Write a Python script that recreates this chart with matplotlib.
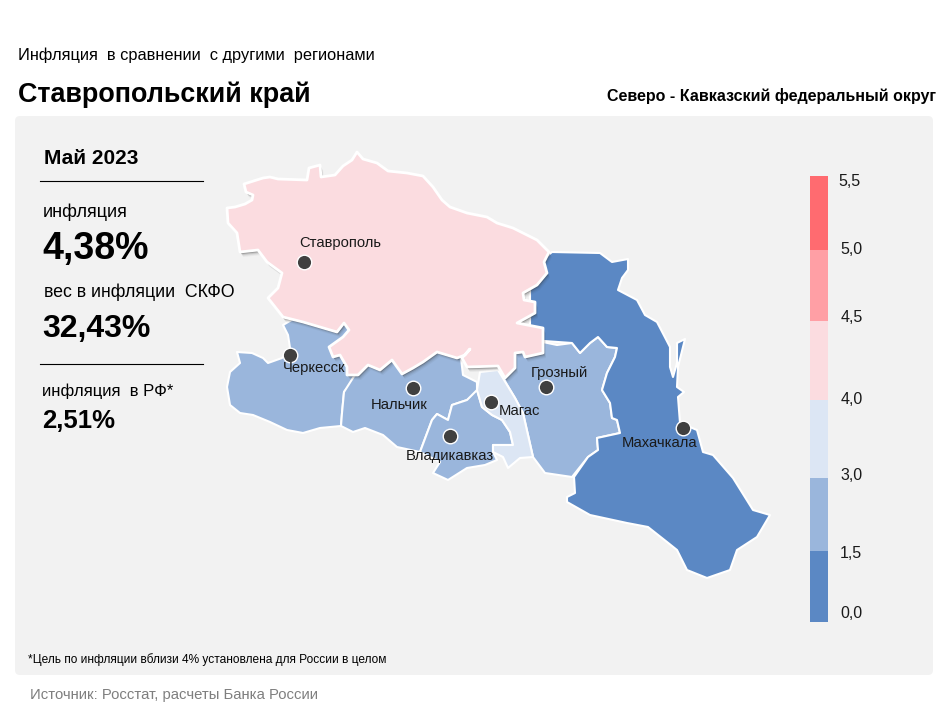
import matplotlib
matplotlib.use('Agg')
import matplotlib.pyplot as plt
from matplotlib.patches import FancyBboxPatch, Polygon, Rectangle

plt.rcParams['font.family'] = ['Liberation Sans', 'DejaVu Sans']

# контуры регионов (в пикселях исходной картинки)
stavropol = [(227, 208), (235, 207), (245, 204), (252, 200), (253, 195), (246, 192), (244, 184), (263, 178), (270, 177),
             (278, 179), (307, 180), (309, 168), (320, 165), (321, 177), (335, 175), (343, 166), (352, 160), (357, 152),
             (363, 159), (377, 163), (388, 171), (407, 173), (423, 176), (433, 187), (442, 200), (450, 207), (467, 213),
             (487, 217), (497, 223), (513, 228), (537, 240), (549, 252), (544, 262), (547, 273), (537, 285), (523, 293),
             (524, 300), (535, 302), (535, 313), (517, 323), (543, 328), (543, 353), (525, 357), (523, 352), (515, 353),
             (515, 368), (505, 378), (498, 366), (467, 367), (462, 358), (470, 349), (465, 355), (457, 358), (437, 352),
             (423, 362), (413, 368), (402, 374), (392, 360), (380, 370), (368, 365), (358, 375), (347, 375), (347, 367),
             (340, 355), (333, 357), (329, 347), (343, 337), (349, 330), (344, 323), (337, 332), (320, 327), (303, 322),
             (283, 317), (268, 298), (278, 288), (282, 273), (267, 262), (258, 250), (240, 252), (237, 233), (228, 223)]
cherkessia = [(237, 352), (252, 353), (263, 358), (268, 363), (282, 358), (290, 348), (288, 335), (283, 325), (300, 315),
              (348, 325), (350, 340), (358, 375), (344, 392), (342, 413), (341, 426), (320, 428), (303, 433), (287, 430),
              (270, 422), (253, 415), (240, 413), (230, 405), (227, 387), (230, 372), (240, 363)]
kabarda = [(358, 370), (344, 392), (342, 413), (341, 426), (353, 432), (365, 428), (383, 435), (397, 447), (420, 452),
           (432, 420), (437, 414), (448, 420), (452, 405), (467, 400), (477, 393), (477, 382), (463, 375), (460, 350),
           (400, 350)]
ossetia = [(420, 452), (432, 420), (437, 414), (448, 420), (452, 405), (467, 400), (477, 390), (482, 407), (492, 415),
           (502, 420), (510, 432), (513, 445), (493, 445), (493, 452), (497, 460), (485, 465), (467, 468), (448, 480),
           (433, 473), (440, 462)]
ingushetia = [(477, 390), (480, 372), (498, 370), (515, 398), (523, 413), (528, 435), (533, 457), (520, 458), (508, 468),
              (503, 457), (493, 452), (493, 445), (513, 445), (510, 432), (502, 420), (492, 415), (482, 407)]
chechnya = [(530, 340), (543, 342), (557, 345), (572, 343), (580, 353), (590, 343), (598, 337), (607, 347), (617, 348),
            (615, 357), (607, 373), (602, 390), (610, 403), (612, 418), (617, 420), (620, 433), (597, 438), (598, 450),
            (588, 457), (572, 477), (545, 473), (533, 457), (528, 435), (523, 413), (515, 398), (498, 370), (500, 360)]
dagestan = [(552, 252), (600, 253), (612, 262), (628, 259), (628, 270), (622, 278), (618, 290), (637, 300), (645, 315),
            (657, 322), (670, 347), (670, 367), (673, 377), (677, 363), (677, 343), (685, 339), (678, 367), (677, 387),
            (684, 392), (678, 397), (680, 423), (697, 430), (703, 452), (713, 455), (733, 478), (753, 510), (770, 515),
            (757, 537), (737, 550), (730, 570), (707, 578), (687, 570), (677, 550), (667, 542), (648, 527), (627, 523),
            (590, 515), (567, 502), (567, 497), (575, 493), (574, 477), (588, 457), (598, 450), (597, 438), (620, 433),
            (617, 420), (612, 418), (610, 403), (602, 390), (607, 373), (615, 357), (617, 348), (607, 347), (598, 337),
            (590, 343), (580, 353), (572, 343), (530, 340), (530, 270)]

# города
city_names = ['Ставрополь', 'Черкесск', 'Нальчик', 'Владикавказ', 'Магас', 'Грозный', 'Махачкала']
city_x = [304, 290, 413, 450, 491, 546, 683]
city_y = [262, 355, 388, 436, 402, 387, 428]
label_x = [299, 283, 371, 406, 499, 531, 622]
label_y = [243, 368, 405, 456, 411, 373, 443]

# шкала
legend_edges = [176, 250, 321, 400, 478, 551, 622]
legend_colors = ['#FF6B70', '#FF9FA5', '#FBDCE0', '#DCE6F4', '#9AB6DC', '#5B88C4']
legend_labels = ['5,5', '5,0', '4,5', '4,0', '3,0', '1,5', '0,0']
legend_label_x = [838, 840, 841, 841, 840, 840, 840]
legend_label_y = [182, 249, 317, 399, 476, 553, 614]

fig = plt.figure(figsize=(9.5, 7.13), dpi=100)
ax = fig.add_axes([0, 0, 1, 1])
ax.set_xlim(0, 950)
ax.set_ylim(713, 0)
ax.axis('off')

ax.add_patch(FancyBboxPatch((18, 119), 912, 553, boxstyle='round,pad=3,rounding_size=5', fc='#F2F2F2', ec='none'))

dark = legend_colors[5]
mid = legend_colors[4]
light = legend_colors[3]
pink = legend_colors[2]

for region, color in [(cherkessia, mid), (kabarda, mid), (ossetia, mid), (chechnya, mid), (dagestan, dark),
                      (ingushetia, light)]:
    ax.add_patch(Polygon(region, closed=True, fc=color, ec='white', lw=1.5, joinstyle='round', zorder=2))

# тень под Ставропольским краем
for off, alpha in [(5, 0.05), (4, 0.08), (3, 0.14), (2, 0.3)]:
    ax.add_patch(Polygon([(x + off * 0.6, y + off) for x, y in stavropol], closed=True, fc='#303030', ec='none',
                         alpha=alpha, zorder=3))
ax.add_patch(Polygon(stavropol, closed=True, fc=pink, ec='white', lw=2, joinstyle='round', zorder=5))

ax.scatter(city_x, city_y, s=110, c='#404040', edgecolors='white', linewidths=1, zorder=6)
for name, x, y in zip(city_names, label_x, label_y):
    ax.text(x, y, name, fontsize=10.6, color='#1A1A1A', va='center', ha='left', zorder=7)

for i, color in enumerate(legend_colors):
    ax.add_patch(Rectangle((810, legend_edges[i]), 18, legend_edges[i + 1] - legend_edges[i], fc=color, ec='none'))
for lab, x, y in zip(legend_labels, legend_label_x, legend_label_y):
    ax.text(x, y, lab, fontsize=11.5, color='#1A1A1A', va='center', ha='left')

ax.text(18, 55, 'Инфляция  в сравнении  с другими  регионами', fontsize=11.8, va='center', color='black')
ax.text(18, 95, 'Ставропольский край', fontsize=19.4, fontweight='bold', va='center', color='black')
ax.text(936, 96, 'Северо - Кавказский федеральный округ', fontsize=11.5, fontweight='bold', va='center', ha='right')

ax.text(44, 159, 'Май 2023', fontsize=15, fontweight='bold', va='center')
ax.plot([40, 203], [180.5, 180.5], color='black', lw=0.8)
ax.text(43, 212, 'инфляция', fontsize=13, va='center')
ax.text(42, 249, '4,38%', fontsize=27, fontweight='bold', va='center')
ax.text(44, 292, 'вес в инфляции  СКФО', fontsize=12.8, va='center')
ax.text(42, 329, '32,43%', fontsize=23, fontweight='bold', va='center')
ax.plot([40, 203], [363.5, 363.5], color='black', lw=0.8)
ax.text(42, 391, 'инфляция  в РФ*', fontsize=12, va='center')
ax.text(42, 421, '2,51%', fontsize=18.5, fontweight='bold', va='center')

ax.text(28, 660, '*Цель по инфляции вблизи 4% установлена для России в целом', fontsize=8.6, va='center')
ax.text(30, 695, 'Источник: Росстат, расчеты Банка России', fontsize=10.7, color='#7F7F7F', va='center')

fig.savefig('out.png', dpi=100)
